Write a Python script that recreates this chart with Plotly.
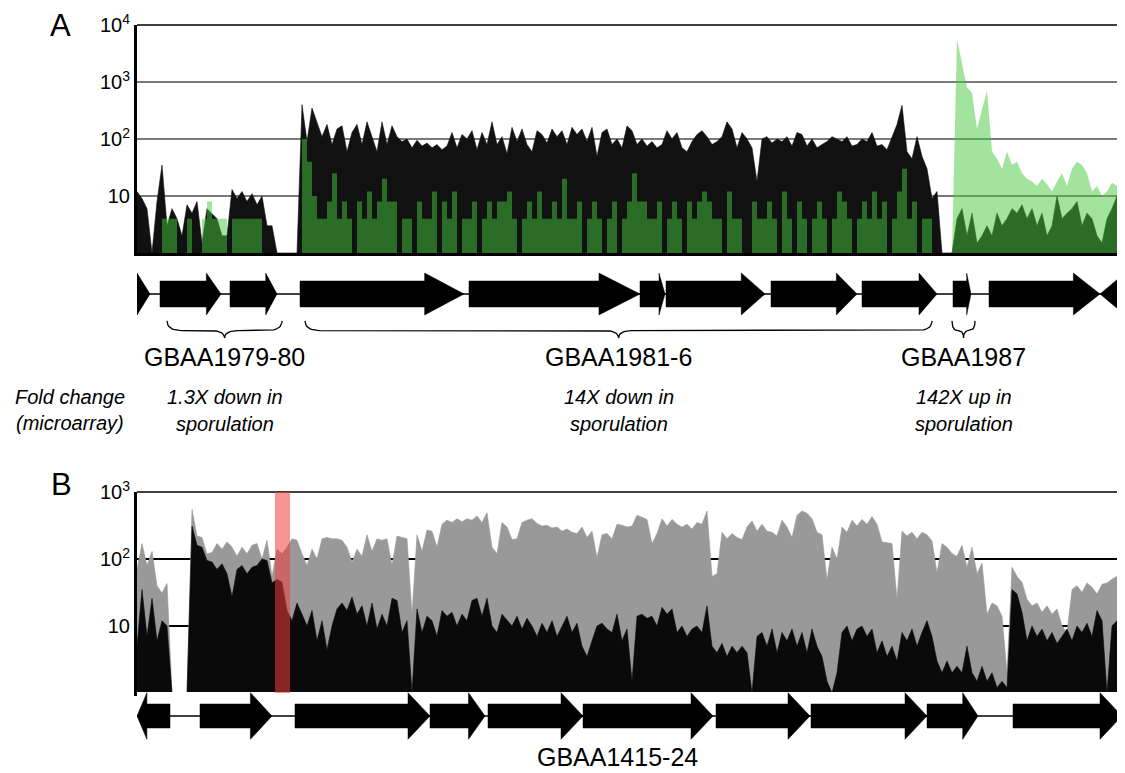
import plotly.graph_objects as go

# ---------------- data ----------------
BIN = 50  # bp per coverage sample

# Panel A coverage (reads), vegetative (black) and sporulation (green)
cov_A_veg = [
    12, 9, 6, 1, 8, 35, 3, 6, 4, 2,
    7, 5, 8, 1.5, 6, 5, 4, 2, 2, 13,
    9, 12, 8, 11, 7, 10, 3, 3, 1, 1,
    1, 1, 1, 400, 90, 350, 200, 110, 180, 80,
    150, 170, 60, 130, 180, 80, 200, 110, 60, 200,
    80, 170, 110, 90, 100, 70, 95, 75, 85, 70,
    80, 65, 75, 130, 70, 120, 100, 140, 65, 130,
    80, 200, 80, 110, 55, 160, 90, 150, 80, 60,
    140, 120, 85, 150, 110, 140, 80, 160, 120, 150,
    90, 160, 50, 130, 150, 80, 100, 70, 170, 140,
    80, 100, 75, 90, 70, 80, 140, 100, 130, 70,
    60, 90, 120, 140, 110, 80, 90, 110, 200, 150,
    70, 130, 100, 70, 18, 100, 110, 85, 100, 90,
    110, 75, 130, 120, 75, 100, 70, 80, 90, 110,
    100, 90, 110, 75, 80, 100, 90, 130, 75, 80,
    65, 110, 180, 390, 60, 45, 110, 50, 30, 9,
    12, 1, 1, 1, 4, 6, 2, 5, 1.5, 2,
    3, 2, 5, 3, 4, 6, 5, 7, 4, 6,
    3, 5, 2, 3, 10, 4, 5, 6, 8, 3,
    5, 4, 2, 1.5, 4, 6, 10, 5,
]
cov_A_spo = [
    1, 1, 1, 1, 1, 4, 4, 4, 1, 1,
    4, 1, 1, 4, 8, 4, 4, 4, 1, 4,
    4, 4, 4, 4, 4, 1, 1, 1, 1, 1,
    1, 1, 1, 100, 40, 10, 4, 4, 8, 25,
    4, 8, 4, 1, 8, 4, 12, 4, 8, 20,
    8, 8, 1, 4, 4, 1, 8, 4, 4, 12,
    1, 8, 4, 12, 1, 4, 4, 8, 1, 4,
    8, 4, 8, 8, 12, 4, 1, 4, 8, 4,
    12, 4, 4, 8, 4, 20, 4, 4, 8, 1,
    4, 8, 4, 1, 4, 8, 1, 4, 8, 25,
    8, 8, 4, 4, 8, 1, 4, 8, 4, 1,
    8, 4, 8, 12, 8, 4, 4, 1, 12, 4,
    4, 1, 1, 8, 4, 4, 8, 4, 1, 12,
    4, 1, 8, 4, 1, 4, 8, 4, 1, 4,
    12, 8, 4, 1, 4, 8, 4, 12, 4, 8,
    1, 4, 12, 30, 4, 8, 1, 4, 4, 1,
    1, 1, 1, 1, 5600, 2200, 800, 650, 150, 330,
    700, 60, 45, 30, 60, 35, 40, 25, 20, 18,
    15, 20, 16, 12, 18, 25, 15, 30, 40, 35,
    25, 12, 15, 10, 12, 17, 15, 14,
]

# Panel B coverage, sporulation (gray) and vegetative (black)
cov_B_spo = [
    70, 170, 80, 130, 40, 31, 43, 1, 1, 1,
    1, 550, 220, 210, 120, 125, 170, 140, 180, 150,
    110, 150, 120, 160, 170, 100, 190, 55, 140, 120,
    150, 200, 190, 120, 80, 140, 100, 200, 210, 200,
    200, 190, 150, 90, 140, 110, 230, 130, 200, 190,
    200, 80, 220, 210, 200, 15, 230, 130, 270, 260,
    150, 330, 380, 350, 400, 360, 400, 380, 440, 350,
    490, 150, 120, 350, 300, 195, 200, 350, 380, 400,
    340, 310, 320, 290, 300, 260, 280, 250, 240, 300,
    210, 260, 104, 230, 240, 200, 330, 320, 300, 310,
    450, 420, 390, 170, 240, 400, 310, 390, 330, 300,
    330, 280, 350, 330, 520, 55, 60, 250, 200, 240,
    210, 195, 300, 370, 260, 330, 260, 250, 220, 380,
    300, 210, 450, 520, 480, 400, 250, 230, 49, 150,
    100, 300, 250, 380, 310, 390, 330, 430, 330, 180,
    175, 170, 25, 260, 220, 250, 200, 250, 230, 185,
    62, 170, 150, 120, 110, 160, 75, 150, 60, 87,
    15, 22, 20, 14, 2, 75, 55, 45, 25, 20,
    22, 16, 20, 15, 18, 10, 8, 35, 40, 32,
    44, 38, 30, 42, 44, 50, 55, 48,
]
cov_B_veg = [
    5, 35, 7, 26, 6, 12, 10, 1, 1, 1,
    1, 310, 160, 150, 95, 90, 70, 85, 60, 27,
    70, 80, 60, 75, 80, 100, 95, 44, 50, 45,
    17, 12, 22, 15, 10, 17, 6, 12, 4.4, 10,
    18, 22, 17, 27, 15, 20, 10, 22, 9, 15,
    10, 26, 24, 8, 12, 1, 18, 8, 14, 12,
    7, 17, 14, 16, 10, 15, 12, 24, 26, 14,
    26, 10, 8, 15, 12, 10, 14, 9, 13, 10,
    7, 11, 8, 12, 7, 10, 14, 8, 11, 5,
    3.5, 6, 10, 11, 9, 8, 15, 6, 9, 1.5,
    14, 15, 13, 14, 10, 19, 15, 18, 8, 10,
    7, 9, 10, 8, 20, 5, 4, 5.5, 3.5, 5,
    4, 5, 4, 1, 7, 8, 5, 9, 4, 8,
    6, 9, 5, 8, 4, 9, 5, 3.5, 1.5, 1,
    2, 8, 10, 6, 9, 10, 7, 9, 4, 6,
    3.5, 5, 3, 8, 6, 9, 5, 8, 12, 7,
    3, 2, 3, 2, 2.5, 2, 5, 2, 1.5, 2.5,
    1.5, 2, 1.2, 1.5, 1.2, 35, 30, 16, 6, 10,
    7, 9, 6, 8, 5.5, 7, 9, 6, 10, 8,
    11, 7, 17, 12, 1, 10, 12, 9,
]

# genes: (start bp, end bp, strand)
genes_A = [(-410, 130, 1), (230, 840, 1), (930, 1400, 1), (1630, 3270, 1),
           (3320, 5030, 1), (5030, 5280, 1), (5290, 6280, 1), (6340, 7200, 1),
           (7250, 8000, 1), (8160, 8340, 1), (8520, 9630, 1), (9630, 10670, -1)]
genes_B = [(0, 330, -1), (630, 1350, 1), (1580, 2930, 1), (2930, 3480, 1),
           (3510, 4460, 1), (4460, 5760, 1), (5790, 6730, 1), (6740, 7900, 1),
           (7900, 8410, 1), (8760, 9850, 1)]

braces_A = [(300, 1450), (1680, 7950), (8150, 8380)]
operon_labels_A = ["GBAA1979-80", "GBAA1981-6", "GBAA1987"]
fold_line1 = ["1.3X down in", "14X down in", "142X up in"]
fold_line2 = ["sporulation", "sporulation", "sporulation"]
operon_label_B = "GBAA1415-24"
red_band_B = (1380, 1530)
spo_peak_region_start = 8100   # bp where GBAA1987 sporulation peak region begins

tickvals_A = [10, 100, 1000, 10000]
ticktext_A = ["10", "10<sup>2</sup>", "10<sup>3</sup>", "10<sup>4</sup>"]
tickvals_B = [10, 100, 1000]
ticktext_B = ["10", "10<sup>2</sup>", "10<sup>3</sup>"]

# ---------------- figure ----------------
FONT = "Liberation Sans, Arial, Helvetica, sans-serif"
XMAX = 9880
OFF = 8                 # page body margin of the browser
FW, FH = 1125 - OFF, 773 - OFF


def px_x(xpx):
    return (xpx - OFF) / FW


def px_y(ypx):
    return 1 - (ypx - OFF) / FH


def positions(n):
    return [i * BIN for i in range(n)]


def gene_polys(genes, frac, maxhead, body, head):
    xs, ys = [], []
    for s, e, strand in genes:
        h = min(maxhead, frac * (e - s))
        if strand > 0:
            xs += [s, e - h, e - h, e, e - h, e - h, s, s, None]
        else:
            xs += [e, s + h, s + h, s, s + h, s + h, e, e, None]
        ys += [body, body, head, 0, -head, -body, -body, body, None]
    return xs, ys


def brace_pts(a, b, y_end, y_mid, y_tip):
    c = (a + b) / 2
    r = min(150, (b - a) / 4)
    xs, ys = [], []

    def quad(p0, p1, p2, n=12):
        for k in range(n + 1):
            t = k / n
            xs.append((1 - t) ** 2 * p0[0] + 2 * (1 - t) * t * p1[0] + t ** 2 * p2[0])
            ys.append((1 - t) ** 2 * p0[1] + 2 * (1 - t) * t * p1[1] + t ** 2 * p2[1])

    quad((a, y_end), (a, y_mid), (a + r, y_mid))
    quad((c - r, y_mid), (c, y_mid), (c, y_tip))
    quad((c, y_tip), (c, y_mid), (c + r, y_mid))
    quad((b - r, y_mid), (b, y_mid), (b, y_end))
    xs.append(None)
    ys.append(None)
    return xs, ys


fig = go.Figure()

# Panel A coverage
posA = positions(len(cov_A_veg))
fig.add_trace(go.Scatter(x=posA, y=cov_A_veg, mode="lines",
                         line=dict(color="#111111", width=0.6), fill="tozeroy",
                         fillcolor="#111111", xaxis="x", yaxis="y", showlegend=False))
posS = positions(len(cov_A_spo))
split = spo_peak_region_start // BIN
GREEN = "rgba(70,200,60,0.5)"
fig.add_trace(go.Scatter(x=posS[:split + 1], y=cov_A_spo[:split + 1], mode="lines",
                         line=dict(color="rgba(0,0,0,0)", width=0, shape="hv"),
                         fill="tozeroy", fillcolor=GREEN,
                         xaxis="x", yaxis="y", showlegend=False))
fig.add_trace(go.Scatter(x=posS[split:], y=cov_A_spo[split:], mode="lines",
                         line=dict(color="rgba(0,0,0,0)", width=0),
                         fill="tozeroy", fillcolor=GREEN,
                         xaxis="x", yaxis="y", showlegend=False))

# Panel B coverage
fig.add_trace(go.Scatter(x=positions(len(cov_B_spo)), y=cov_B_spo, mode="lines",
                         line=dict(color="#999999", width=0.6), fill="tozeroy",
                         fillcolor="#999999", xaxis="x2", yaxis="y2", showlegend=False))
fig.add_trace(go.Scatter(x=positions(len(cov_B_veg)), y=cov_B_veg, mode="lines",
                         line=dict(color="#0a0a0a", width=0.6), fill="tozeroy",
                         fillcolor="#0a0a0a", xaxis="x2", yaxis="y2", showlegend=False))

# gene tracks
fig.add_trace(go.Scatter(x=[0, XMAX], y=[0, 0], mode="lines",
                         line=dict(color="black", width=1.5),
                         xaxis="x", yaxis="y3", showlegend=False))
gx, gy = gene_polys(genes_A, 0.24, 450, 0.59, 0.95)
fig.add_trace(go.Scatter(x=gx, y=gy, mode="lines", fill="toself", fillcolor="black",
                         line=dict(color="black", width=0.5),
                         xaxis="x", yaxis="y3", showlegend=False))
bx, by = [], []
for a, b in braces_A:
    xx, yy = brace_pts(a, b, -1.22, -1.66, -2.0)
    bx += xx
    by += yy
fig.add_trace(go.Scatter(x=bx, y=by, mode="lines", line=dict(color="black", width=1.3),
                         xaxis="x", yaxis="y3", showlegend=False))

fig.add_trace(go.Scatter(x=[0, XMAX], y=[0, 0], mode="lines",
                         line=dict(color="black", width=1.5),
                         xaxis="x2", yaxis="y4", showlegend=False))
gx, gy = gene_polys(genes_B, 0.3, 220, 0.5, 0.97)
fig.add_trace(go.Scatter(x=gx, y=gy, mode="lines", fill="toself", fillcolor="black",
                         line=dict(color="black", width=0.5),
                         xaxis="x2", yaxis="y4", showlegend=False))

XDOM = [px_x(137), 1.0]
yA = [px_y(253), px_y(25)]
yB = [px_y(693), px_y(492)]

axis_font = dict(family=FONT, size=20, color="black")
fig.update_layout(
    template="none",
    width=FW, height=FH, autosize=False,
    margin=dict(l=0, r=0, t=0, b=0, pad=0, autoexpand=False),
    paper_bgcolor="white", plot_bgcolor="white",
    xaxis=dict(domain=XDOM, range=[0, XMAX], anchor="y", showgrid=False,
               showticklabels=False, zeroline=False, showline=True, automargin=False,
               linecolor="black", linewidth=3, ticks=""),
    yaxis=dict(domain=yA, type="log", range=[0, 4], anchor="x", automargin=False,
               tickvals=tickvals_A, ticktext=ticktext_A, tickfont=axis_font,
               showgrid=True, gridcolor="#7a7a7a", gridwidth=1.5,
               showline=True, linecolor="black", linewidth=3, ticks="",
               zeroline=False),
    xaxis2=dict(domain=XDOM, range=[0, XMAX], anchor="y2", showgrid=False,
                showticklabels=False, zeroline=False, showline=True, automargin=False,
                linecolor="black", linewidth=3, ticks=""),
    yaxis2=dict(domain=yB, type="log", range=[0, 3], anchor="x2", automargin=False,
                tickvals=tickvals_B, ticktext=ticktext_B, tickfont=axis_font,
                showgrid=True, gridcolor="black", gridwidth=1.5,
                showline=True, linecolor="black", linewidth=3, ticks="",
                zeroline=False),
    yaxis3=dict(domain=[px_y(340), px_y(270)], range=[-2.09, 1.09], anchor="x",
                visible=False, automargin=False),
    yaxis4=dict(domain=[px_y(740), px_y(692)], range=[-1, 1], anchor="x2",
                visible=False, automargin=False),
)

# top border lines and red band
fig.add_shape(type="line", xref="x domain", yref="y domain", x0=0, x1=1, y0=1, y1=1,
              line=dict(color="black", width=1.5))
fig.add_shape(type="line", xref="x2 domain", yref="y2 domain", x0=0, x1=1, y0=1, y1=1,
              line=dict(color="black", width=1.5))
fig.add_shape(type="rect", xref="x2", yref="y2 domain", x0=red_band_B[0], x1=red_band_B[1],
              y0=0, y1=1, fillcolor="rgb(240,60,60)", opacity=0.55, line=dict(width=0),
              layer="above")

# annotations
def ann(text, x, y, size, xref="paper", italic=False, xanchor="center"):
    fig.add_annotation(text=("<i>%s</i>" % text) if italic else text, x=x, y=y,
                       xref=xref, yref="paper", showarrow=False, xanchor=xanchor,
                       yanchor="middle", font=dict(family=FONT, size=size, color="black"))


ann("A", px_x(60), px_y(25), 31)
ann("B", px_x(61), px_y(484), 31)
for (a, b), lab, l1, l2 in zip(braces_A, operon_labels_A, fold_line1, fold_line2):
    c = (a + b) / 2
    ann(lab, c, px_y(357), 25, xref="x")
    ann(l1, c, px_y(397), 20, xref="x", italic=True)
    ann(l2, c, px_y(424), 20, xref="x", italic=True)
ann("Fold change", px_x(70), px_y(397), 20, italic=True)
ann("(microarray)", px_x(70), px_y(423), 20, italic=True)
ann(operon_label_B, px_x(617), px_y(757), 25)

fig.write_html("out.html")
